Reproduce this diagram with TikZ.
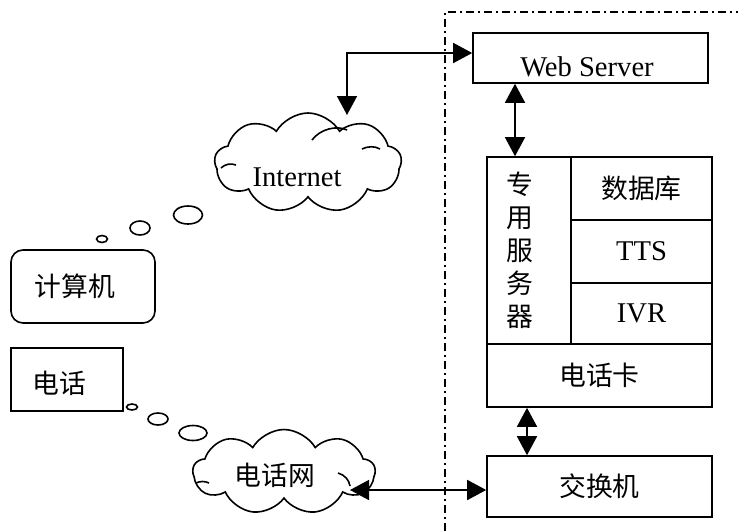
\documentclass[tikz,border=0pt]{standalone}
\usepackage{fontspec}
\setmainfont{Liberation Serif}
\newfontfamily\cjk{Noto Sans CJK SC}
\usetikzlibrary{shapes.symbols,shapes.geometric,arrows.meta,calc}
\begin{document}
\begin{tikzpicture}[x=0.5pt,y=-0.5pt,
  every node/.style={font=\fontsize{14.3pt}{16.5pt}\selectfont},
  cjkfont/.style={font=\cjk\fontsize{13.4pt}{16pt}\selectfont},
  box/.style={draw,line width=0.8pt,inner sep=0pt},
  bub/.style={draw,ellipse,line width=0.8pt,inner sep=0pt},
  cld/.style={draw,cloud,cloud puffs=9,cloud puff arc=120,line width=0.8pt,inner sep=0pt},
  curl/.style={line width=0.8pt},
  arr/.style={{Triangle[length=9.5pt,width=10pt]}-{Triangle[length=9.5pt,width=10pt]},line width=0.8pt},
  frame/.style={line width=0.8pt,dash pattern=on 4pt off 2pt on 1pt off 2pt}]
\useasboundingbox (0,0) rectangle (738,531);

% dash-dot frame
\coordinate (f1) at (445,531);
\coordinate (f2) at (445,12);
\coordinate (f3) at (738,12);
\draw[frame] (f1) -- (f2) -- (f3);

% web server
\node[box,minimum width=117.5pt,minimum height=25pt,
  label={[xshift=-1.75pt,yshift=-4.5pt]center:Web Server}] (ws) at (590.5,58) {};

% dedicated server block
\node[box,minimum width=42pt,minimum height=93.5pt,
  label={[xshift=-4.5pt,align=center,font=\cjk\fontsize{13.4pt}{16.5pt}\selectfont]center:专\\用\\服\\务\\器}] (srv) at (529,250.5) {};
\node[box,cjkfont,minimum width=70.5pt,minimum height=31.5pt] (db) at (641.5,188.5) {数据库};
\node[box,minimum width=70.5pt,minimum height=31.5pt] (tts) at (641.5,251.5) {TTS};
\node[box,minimum width=70.5pt,minimum height=30.5pt] (ivr) at (641.5,313.5) {IVR};
\node[box,cjkfont,minimum width=112.5pt,minimum height=31.5pt] (card) at (599.5,375.5) {电话卡};

% switch
\node[box,cjkfont,minimum width=112.5pt,minimum height=30.5pt] (sw) at (599.5,486.5) {交换机};

% computer and phone
\node[box,rounded corners=6pt,minimum width=72pt,minimum height=36.5pt,
  label={[xshift=-4pt,cjkfont]center:计算机}] (pc) at (83,286.5) {};
\node[box,minimum width=56pt,minimum height=31.5pt,
  label={[xshift=-4pt,yshift=-1.75pt,cjkfont]center:电话}] (tel) at (67,379.5) {};

% clouds
\node[cld,aspect=1.9,minimum width=93.5pt,minimum height=50pt,
  label={[xshift=-5.5pt,yshift=-7pt]center:Internet}] (inet) at (308,163) {};
\node[cld,aspect=2.1,minimum width=91pt,minimum height=42.5pt,
  label={[xshift=-4.5pt,yshift=-1.5pt,cjkfont]center:电话网}] (pstn) at (284,472) {};
% inner curls of the clouds
\draw[curl] (312,140) .. controls (320,129) and (337,125) .. (347,130);
\draw[curl] (362,149) .. controls (368,146) and (375,146) .. (380,149);
\draw[curl] (221,168) .. controls (225,164) and (231,163) .. (236,165);
\draw[curl] (338,473) .. controls (345,475) and (349,480) .. (350,486);
\draw[curl] (196,483) .. controls (200,481) and (205,481) .. (209,483);

% thought bubbles
\node[bub,minimum width=14.5pt,minimum height=9pt] (b1) at (188,215) {};
\node[bub,minimum width=10pt,minimum height=7pt] (b2) at (140,228) {};
\node[bub,minimum width=5.5pt,minimum height=3.5pt] (b3) at (102,239) {};
\node[bub,minimum width=5.5pt,minimum height=3pt] (c1) at (132,407) {};
\node[bub,minimum width=10pt,minimum height=6pt] (c2) at (158,419) {};
\node[bub,minimum width=14pt,minimum height=7.5pt] (c3) at (193,433) {};

% connectors
\coordinate (ip) at (347,115);
\draw[arr] (ip) |- ($(ws.west)+(0,-5)$);
\draw[arr] ([xshift=-37.75pt]ws.south) -- ([xshift=-37.75pt]ws.south |- srv.north);
\draw[arr] ([xshift=-36.25pt]card.south) -- ([xshift=-36.25pt]card.south |- sw.north);
\coordinate (pe) at (350,490);
\draw[arr] (pe) -- (pe -| sw.west);
\end{tikzpicture}
\end{document}
